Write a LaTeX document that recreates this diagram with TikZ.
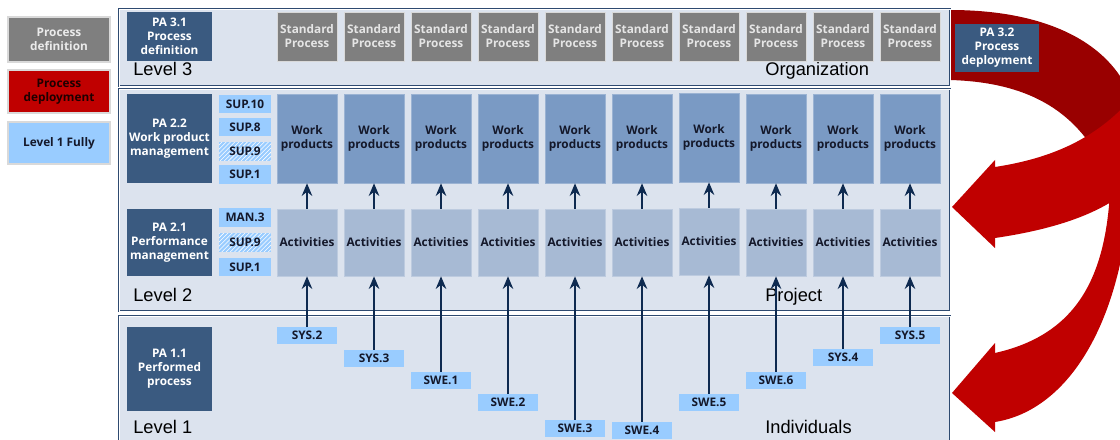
\documentclass[tikz,border=0pt]{standalone}
\usepackage{fontspec}
\setmainfont{Open Sans}
\newfontfamily\lvlfont{Liberation Sans}
\usepackage{xcolor}
\usepackage{tikz}
\usetikzlibrary{arrows.meta,patterns}
\definecolor{pnlfill}{HTML}{DCE3EE}
\definecolor{pnlline}{HTML}{2E4A70}
\definecolor{padark}{HTML}{3A5A80}
\definecolor{stdgray}{HTML}{7F7F7F}
\definecolor{wpblue}{HTML}{7A9AC4}
\definecolor{actblue}{HTML}{A7BAD4}
\definecolor{labblue}{HTML}{99CCFF}
\definecolor{arrnavy}{HTML}{0E2A50}
\definecolor{redA}{HTML}{C00000}
\definecolor{redB}{HTML}{990000}
\definecolor{txtdark}{HTML}{14182A}
\tikzset{box/.style={rectangle,inner sep=0pt,align=center,font=\bfseries\fontsize{8.4}{10}\selectfont},
  pa/.style={box,fill=padark,text=white,minimum width=2.125cm},
  stdp/.style={box,fill=stdgray,draw=white!70!stdgray,text=white!90!black,minimum width=1.5cm,minimum height=1.225cm},
  wp/.style={box,fill=wpblue,draw=white!25!wpblue,text=txtdark,minimum width=1.5cm,minimum height=2.225cm},
  act/.style={box,fill=actblue,draw=white!25!actblue,text=txtdark,minimum width=1.5cm,minimum height=1.675cm},
  lab/.style={box,fill=labblue,text=txtdark,minimum width=1.3cm,minimum height=0.45cm},
  labh/.style={lab,preaction={fill=labblue},pattern=north east lines,pattern color=white},
  base/.style={lab,minimum width=1.475cm,minimum height=0.425cm},
  leg/.style={box,draw=white!85!black,line width=0.8pt,minimum width=2.55cm},
  panel/.style={fill=pnlfill,draw=pnlline,double=white,double distance=0.5pt,line width=0.6pt},
  lvl/.style={anchor=base west,inner sep=0pt,font=\lvlfont\fontsize{13}{15}\selectfont},
  up/.style={-{Stealth[length=9pt,width=7.5pt,inset=3pt]},draw=arrnavy,line width=1.3pt}}

\begin{document}
\begin{tikzpicture}[x=0.025cm,y=-0.025cm]
    \useasboundingbox (0,0) rectangle (1120,440);
    \clip (0,0) rectangle (1120,440);

    % legend
    \node[leg,fill=stdgray,text=white!92!black,minimum height=1.125cm] (lg1) at (59,39.5) {Process\\definition};
    \node[leg,fill=redA,text=black!85!redA,minimum height=1.075cm] (lg2) at (59,91.5) {Process\\deployment};
    \node[leg,fill=labblue,text=txtdark,minimum height=1.05cm] (lg3) at (59,143) {Level 1 Fully};

    % red spiral
    \fill[redB] (950,10) .. controls (1050,10) and (1110,45) .. (1130,95) -- (1130,200) -- (1100,160) .. controls (1070,105) and (1020,82) .. (950,80) -- cycle;
    \fill[redA] (1130,192) .. controls (1122,320) and (1070,410) .. (995,422) -- (995,432) -- (952,393) -- (995,343) -- (995,353) .. controls (1075,335) and (1105,280) .. (1110,192) -- cycle;
    \fill[redA] (1130,100) .. controls (1090,145) and (1040,160) .. (995,167) -- (995,160) -- (952,207) -- (995,248) -- (995,238) .. controls (1050,230) and (1100,215) .. (1130,188) -- cycle;

    % panels
    \draw[panel] (119,9) rectangle (950,86);
    \draw[panel] (119,89) rectangle (950,311);
    \draw[panel] (119,316) rectangle (950,460);

    \node[lvl] (l3) at (133,76) {Level 3};
    \node[lvl] (org) at (765,76) {Organization};
    \node[lvl] (l2) at (133,301) {Level 2};
    \node[lvl] (proj) at (765,301) {Project};
    \node[lvl] (l1) at (133,433) {Level 1};
    \node[lvl] (ind) at (765,433) {Individuals};

    % process attributes
    \node[pa,minimum height=1.225cm] (pa31) at (169.5,36.5) {PA 3.1\\Process\\definition};
    \node[pa,minimum height=2.225cm] (pa22) at (169.5,138.5) {PA 2.2\\Work product\\management};
    \node[pa,minimum height=1.675cm] (pa21) at (169.5,242.5) {PA 2.1\\Performance\\management};
    \node[pa,minimum height=2.1cm] (pa11) at (169.5,369) {PA 1.1\\Performed\\process};
    \node[pa,minimum width=2.1cm,minimum height=1.2cm] (pa32) at (997,48) {PA 3.2\\Process\\deployment};

    \node[lab] (sup10) at (245,104) {SUP.10};
    \node[lab] (sup8) at (245,127) {SUP.8};
    \node[labh] (sup9a) at (245,151.5) {SUP.9};
    \node[lab] (sup1a) at (245,174.5) {SUP.1};
    \node[lab] (man3) at (245,217.5) {MAN.3};
    \node[labh] (sup9b) at (245,242.5) {SUP.9};
    \node[lab] (sup1b) at (245,267) {SUP.1};

    % standard processes
    \node[stdp] (s1) at (307,36.5) {Standard\\Process};
    \node[stdp] (s2) at (374,36.5) {Standard\\Process};
    \node[stdp] (s3) at (441,36.5) {Standard\\Process};
    \node[stdp] (s4) at (508,36.5) {Standard\\Process};
    \node[stdp] (s5) at (575,36.5) {Standard\\Process};
    \node[stdp] (s6) at (642,36.5) {Standard\\Process};
    \node[stdp] (s7) at (709,36.5) {Standard\\Process};
    \node[stdp] (s8) at (776,36.5) {Standard\\Process};
    \node[stdp] (s9) at (843,36.5) {Standard\\Process};
    \node[stdp] (s10) at (910,36.5) {Standard\\Process};

    % work products
    \node[wp] (w1) at (307,138.5) {Work\\products};
    \node[wp] (w2) at (374,138.5) {Work\\products};
    \node[wp] (w3) at (441,138.5) {Work\\products};
    \node[wp] (w4) at (508,138.5) {Work\\products};
    \node[wp] (w5) at (575,138.5) {Work\\products};
    \node[wp] (w6) at (642,138.5) {Work\\products};
    \node[wp] (w7) at (709,137.5) {Work\\products};
    \node[wp] (w8) at (776,138.5) {Work\\products};
    \node[wp] (w9) at (843,138.5) {Work\\products};
    \node[wp] (w10) at (910,138.5) {Work\\products};

    % activities
    \node[act] (a1) at (307,242.5) {Activities};
    \node[act] (a2) at (374,242.5) {Activities};
    \node[act] (a3) at (441,242.5) {Activities};
    \node[act] (a4) at (508,242.5) {Activities};
    \node[act] (a5) at (575,242.5) {Activities};
    \node[act] (a6) at (642,242.5) {Activities};
    \node[act] (a7) at (709,241.5) {Activities};
    \node[act] (a8) at (776,242.5) {Activities};
    \node[act] (a9) at (843,242.5) {Activities};
    \node[act] (a10) at (910,242.5) {Activities};

    % base practices
    \node[base] (sys2) at (307,335.5) {SYS.2};
    \node[base] (sys3) at (374,358.5) {SYS.3};
    \node[base] (swe1) at (441,380.5) {SWE.1};
    \node[base] (swe2) at (508,402.5) {SWE.2};
    \node[base] (swe3) at (575,428.5) {SWE.3};
    \node[base] (swe4) at (642,430.5) {SWE.4};
    \node[base] (swe5) at (709,402.5) {SWE.5};
    \node[base] (swe6) at (776,380.5) {SWE.6};
    \node[base] (sys4) at (843,357.5) {SYS.4};
    \node[base] (sys5) at (910,335.5) {SYS.5};

    \draw [up] (sys2) to [] (a1);
    \draw [up] (sys3) to [] (a2);
    \draw [up] (swe1) to [] (a3);
    \draw [up] (swe2) to [] (a4);
    \draw [up] (swe3) to [] (a5);
    \draw [up] (swe4) to [] (a6);
    \draw [up] (swe5) to [] (a7);
    \draw [up] (swe6) to [] (a8);
    \draw [up] (sys4) to [] (a9);
    \draw [up] (sys5) to [] (a10);

    \draw [up] (a1) to [] (w1);
    \draw [up] (a2) to [] (w2);
    \draw [up] (a3) to [] (w3);
    \draw [up] (a4) to [] (w4);
    \draw [up] (a5) to [] (w5);
    \draw [up] (a6) to [] (w6);
    \draw [up] (a7) to [] (w7);
    \draw [up] (a8) to [] (w8);
    \draw [up] (a9) to [] (w9);
    \draw [up] (a10) to [] (w10);
\end{tikzpicture}
\end{document}
